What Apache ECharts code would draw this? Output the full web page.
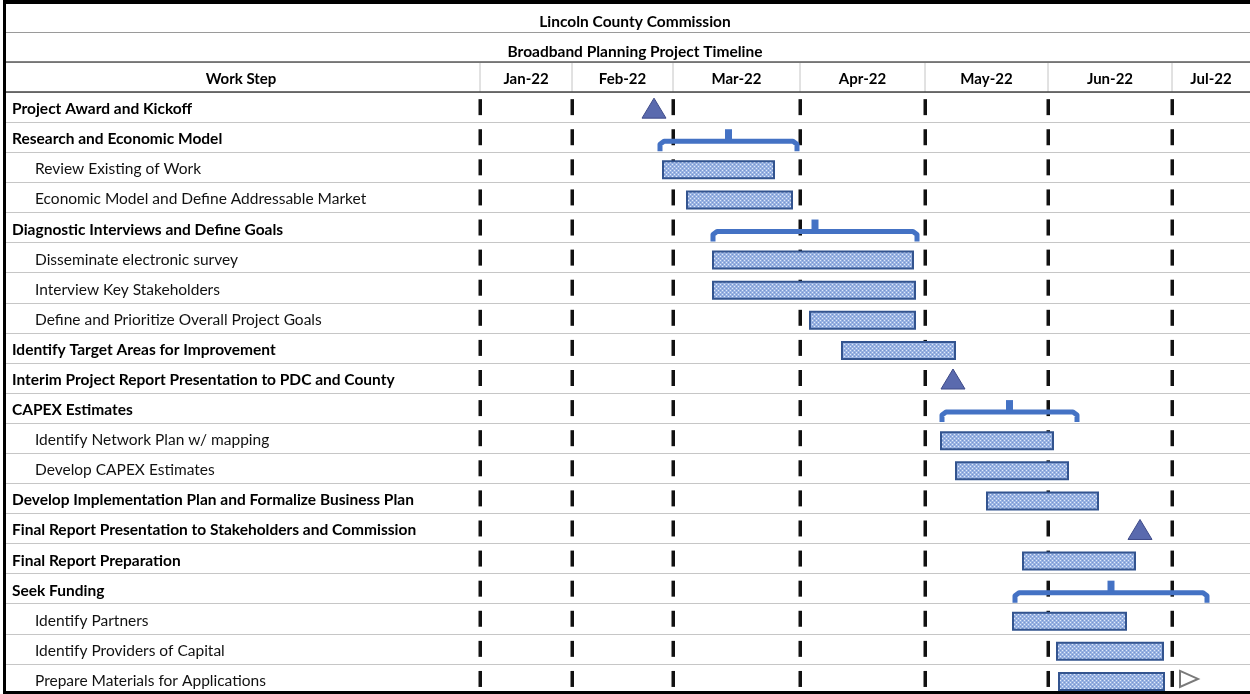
<!DOCTYPE html>
<html>
<head>
<meta charset="utf-8">
<title>Broadband Planning Project Timeline</title>
<script src="https://cdn.jsdelivr.net/npm/echarts@6/dist/echarts.min.js"></script>
<style>
  html, body { margin: 0; padding: 0; background: #fff; }
  #chart { width: 1250px; height: 694px; }
</style>
</head>
<body>
<div id="chart"></div>
<script>
// month columns, edges given on the timeline scale (0 = start of Jan-22 column)
const monthLabels = ['Jan-22', 'Feb-22', 'Mar-22', 'Apr-22', 'May-22', 'Jun-22', 'Jul-22']
const monthEdges = [0, 92, 193, 320, 445, 568, 692, 770]

const taskNames = [
  'Project Award and Kickoff',
  'Research and Economic Model',
  'Review Existing of Work',
  'Economic Model and Define Addressable Market',
  'Diagnostic Interviews and Define Goals',
  'Disseminate electronic survey',
  'Interview Key Stakeholders',
  'Define and Prioritize Overall Project Goals',
  'Identify Target Areas for Improvement',
  'Interim Project Report Presentation to PDC and County',
  'CAPEX Estimates',
  'Identify Network Plan w/ mapping',
  'Develop CAPEX Estimates',
  'Develop Implementation Plan and Formalize Business Plan',
  'Final Report Presentation to Stakeholders and Commission',
  'Final Report Preparation',
  'Seek Funding',
  'Identify Partners',
  'Identify Providers of Capital',
  'Prepare Materials for Applications'
]
const taskIndent = [0, 0, 1, 1, 0, 1, 1, 1, 0, 0, 0, 1, 1, 0, 0, 0, 0, 1, 1, 1]
const taskKind = ['milestone', 'summary', 'bar', 'bar', 'summary', 'bar', 'bar', 'bar', 'bar', 'milestone',
  'summary', 'bar', 'bar', 'bar', 'milestone', 'bar', 'summary', 'bar', 'bar', 'bar']
const taskStart = [174, 180, 183, 207, 233, 233, 233, 330, 362, 473, 462, 461, 476, 507, 660, 543, 535, 533, 577, 579]
const taskEnd = [174, 317, 294, 312, 437, 433, 435, 435, 475, 473, 597, 573, 588, 618, 660, 655, 727, 646, 683, 684]

// open "continues" marker after the last task
const continueRow = [20]
const continueAt = [709]

const FONT = 'Lato'
const rowCats = ['Work Step'].concat(taskNames)

// dotted fill used by the task bars
function makeDots() {
  const c = document.createElement('canvas')
  c.width = 4
  c.height = 4
  const ctx = c.getContext('2d')
  ctx.fillStyle = '#98b2e2'
  ctx.fillRect(0, 0, 4, 4)
  ctx.fillStyle = '#e2ebf9'
  ctx.fillRect(0, 0, 1, 1)
  ctx.fillRect(2, 2, 1, 1)
  ctx.fillStyle = '#7896cf'
  ctx.fillRect(2, 0, 1, 1)
  ctx.fillRect(0, 2, 1, 1)
  return c
}
const dots = makeDots()

function renderColumn(params, api) {
  const i = params.dataIndex
  const left = api.coord([api.value(0), 0])
  const right = api.coord([api.value(1), 0])
  const rowH = api.size([0, 1])[1]
  const children = [
    {
      type: 'line',
      shape: { x1: left[0], y1: left[1] - rowH / 2, x2: left[0], y2: left[1] + rowH / 2 },
      style: { stroke: '#c4c4c4', lineWidth: 1 }
    },
    {
      type: 'text',
      style: {
        text: monthLabels[i], x: (left[0] + right[0]) / 2, y: left[1] + 2,
        align: 'center', verticalAlign: 'middle', font: 'bold 15px ' + FONT, fill: '#000'
      }
    }
  ]
  // black month markers in every task row
  for (let r = 1; r <= taskNames.length; r++) {
    const c = api.coord([api.value(0), r])
    children.push({
      type: 'rect',
      shape: { x: c[0] - 1.5, y: c[1] - 8, width: 3.5, height: 16 },
      style: { fill: '#111' }
    })
  }
  return { type: 'group', children }
}

function renderTask(params, api) {
  const kind = taskKind[params.dataIndex]
  const s = api.coord([api.value(0), api.value(2)])
  const e = api.coord([api.value(1), api.value(2)])
  const y = s[1]
  if (kind === 'bar') {
    return {
      type: 'rect',
      shape: { x: s[0], y: y - 6, width: e[0] - s[0], height: 17 },
      style: { fill: { image: dots, repeat: 'repeat' }, stroke: '#33548f', lineWidth: 2 }
    }
  }
  if (kind === 'milestone') {
    return {
      type: 'polygon',
      shape: { points: [[s[0], y - 9], [s[0] + 12, y + 11], [s[0] - 12, y + 11]] },
      style: { fill: '#5a6aae', stroke: '#3e4a88', lineWidth: 1 }
    }
  }
  // summary bracket
  const mid = (s[0] + e[0]) / 2
  return {
    type: 'group',
    children: [
      {
        type: 'polyline',
        shape: { points: [[s[0], y + 14], [s[0], y + 7], [s[0] + 4, y + 4], [e[0] - 4, y + 4], [e[0], y + 7], [e[0], y + 14]] },
        style: { stroke: '#4472c4', lineWidth: 5, fill: null, lineJoin: 'round' }
      },
      {
        type: 'rect',
        shape: { x: mid - 3.5, y: y - 8, width: 7, height: 11 },
        style: { fill: '#4472c4' }
      }
    ]
  }
}

function renderContinue(params, api) {
  const p = api.coord([api.value(0), api.value(1)])
  return {
    type: 'polygon',
    shape: { points: [[p[0] - 9, p[1] - 8], [p[0] + 9, p[1]], [p[0] - 9, p[1] + 8]] },
    style: { fill: '#fff', stroke: '#7a7a7a', lineWidth: 2 }
  }
}

const chart = echarts.init(document.getElementById('chart'))
const option = {
  animation: false,
  backgroundColor: '#fff',
  title: [
    {
      text: 'Lincoln County Commission', left: 630, top: 9, textAlign: 'center',
      textStyle: { fontFamily: FONT, fontWeight: 'bold', fontSize: 15.5, color: '#000' }
    },
    {
      text: 'Broadband Planning Project Timeline', left: 630, top: 39, textAlign: 'center',
      textStyle: { fontFamily: FONT, fontWeight: 'bold', fontSize: 15.5, color: '#000' }
    }
  ],
  grid: { left: 6, right: 0, top: 62, bottom: 0 },
  xAxis: { type: 'value', min: -474, max: 770, show: false },
  yAxis: {
    type: 'category',
    inverse: true,
    data: rowCats,
    axisLine: { show: false },
    axisTick: { show: false },
    splitLine: { show: true, lineStyle: { color: '#c6c6c6', width: 1 } },
    axisLabel: {
      inside: true,
      margin: 6,
      interval: 0,
      color: '#000',
      fontFamily: FONT,
      fontSize: 15.5,
      formatter: (v, i) => {
        if (i === 0) return '{h|' + v + '}'
        return taskIndent[i - 1] ? '{s|' + v + '}' : '{b|' + v + '}'
      },
      rich: {
        h: { fontFamily: FONT, fontSize: 15, fontWeight: 'bold', color: '#000', width: 458, align: 'center', padding: [4, 0, 0, 0] },
        b: { fontFamily: FONT, fontSize: 15.5, fontWeight: 'bold', color: '#000', padding: [4, 0, 0, 0] },
        s: { fontFamily: FONT, fontSize: 15.5, color: '#111', padding: [4, 0, 0, 23] }
      }
    }
  },
  graphic: [
    { type: 'line', z: 100, shape: { x1: 6, y1: 32.5, x2: 1250, y2: 32.5 }, style: { stroke: '#9a9a9a', lineWidth: 1 } },
    { type: 'line', z: 100, shape: { x1: 6, y1: 62, x2: 1250, y2: 62 }, style: { stroke: '#5a5a5a', lineWidth: 1.5 } },
    { type: 'line', z: 100, shape: { x1: 6, y1: 92, x2: 1250, y2: 92 }, style: { stroke: '#444', lineWidth: 1.5 } },
    { type: 'rect', z: 100, shape: { x: 3, y: 0, width: 1247, height: 4 }, style: { fill: '#000' } },
    { type: 'rect', z: 100, shape: { x: 3, y: 691, width: 1247, height: 3 }, style: { fill: '#000' } },
    { type: 'rect', z: 100, shape: { x: 3, y: 0, width: 3, height: 694 }, style: { fill: '#000' } }
  ],
  series: [
    {
      type: 'custom',
      name: 'months',
      renderItem: renderColumn,
      data: monthLabels.map((m, i) => [monthEdges[i], monthEdges[i + 1]]),
      z: 2
    },
    {
      type: 'custom',
      name: 'tasks',
      renderItem: renderTask,
      data: taskNames.map((n, i) => [taskStart[i], taskEnd[i], i + 1]),
      z: 3
    },
    {
      type: 'custom',
      name: 'continues',
      renderItem: renderContinue,
      data: continueRow.map((r, i) => [continueAt[i], r]),
      z: 3
    }
  ]
}
chart.setOption(option)
</script>
</body>
</html>
